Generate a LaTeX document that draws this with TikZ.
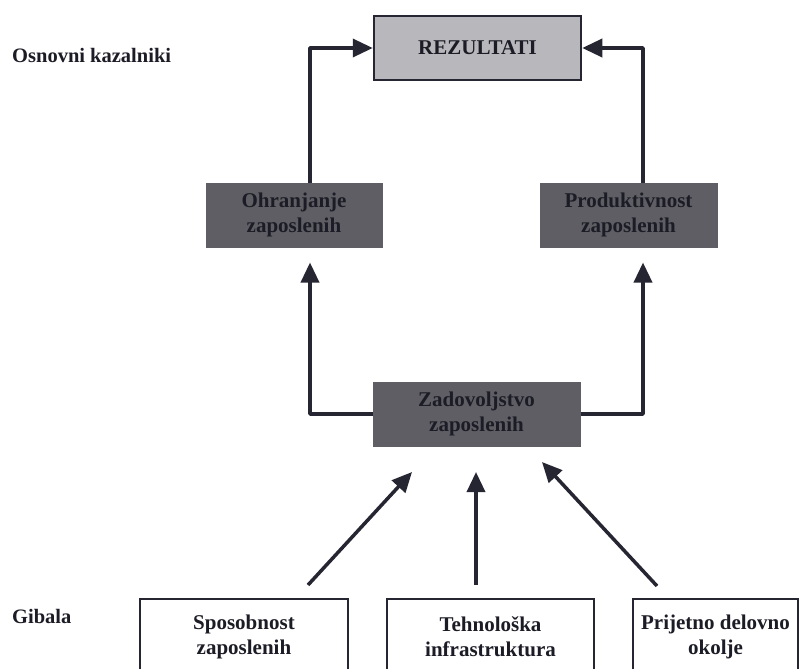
\documentclass[tikz,border=0pt]{standalone}
\usepackage{fontspec}
\setmainfont{Liberation Serif}
\usetikzlibrary{arrows.meta}
\definecolor{ink}{HTML}{262633}
\definecolor{darkbox}{HTML}{5E5E64}
\definecolor{lightbox}{HTML}{B8B8BC}
\definecolor{txt}{HTML}{1C1C26}
\begin{document}
\begin{tikzpicture}[x=1pt,y=-1pt,
  lbl/.style={font=\fontsize{21}{25}\selectfont\bfseries, text=txt, align=center, inner sep=0pt},
  darkn/.style={lbl, fill=darkbox, draw=darkbox, line width=1pt, minimum height=64pt},
  resultbox/.style={lbl, fill=lightbox, draw=ink, line width=2.5pt, minimum width=207pt, minimum height=64pt},
  driverbox/.style={lbl, draw=ink, line width=1.4pt, fill=white, minimum height=76pt},
  sidelbl/.style={font=\fontsize{20.5}{24}\selectfont\bfseries, text=txt, anchor=west, inner sep=0pt},
  arr/.style={draw=ink, line width=3.5pt, line join=round, -{Triangle[length=20pt,width=18pt]}},
  conn/.style={draw=ink, line width=3.5pt, line join=round}
]
\useasboundingbox (0,0) rectangle (803,669);
\fill[white] (0,0) rectangle (803,669);
\clip (0,0) rectangle (803,669);

% side labels
\node[sidelbl] (osn) at (12,55) {Osnovni kazalniki};
\node[sidelbl] (gib) at (12,616) {Gibala};

% main boxes
\node[resultbox] (rez) at (477.5,48) {REZULTATI};
\node[darkn, minimum width=176pt] (ohr) at (294,215) {Ohranjanje\\zaposlenih};
\node[darkn, minimum width=177pt] (prod) at (628.5,215) {Produktivnost\\zaposlenih};
\node[darkn, minimum width=207pt] (zad) at (476.5,414) {Zadovoljstvo\\zaposlenih};

% driver boxes (bottom edge falls below the picture)
\node[driverbox, minimum width=208pt] (spo) at (244,637) {Sposobnost\\zaposlenih};
\node[driverbox, minimum width=207pt] (teh) at (490.5,637) {Tehnološka\\infrastruktura};
\node[driverbox, minimum width=165pt] (pri) at (715.5,637) {Prijetno delovno\\okolje};

% connectors to REZULTATI
\coordinate (cl) at (310,48);
\coordinate (cr) at (643,48);
\draw[arr] (ohr.north -| cl) -- (cl) -- (rez.west);
\draw[arr] (prod.north -| cr) -- (cr) -- (rez.east);

% from Zadovoljstvo up to the two middle boxes
\draw[arr, shorten >=15pt] (zad.west) -- (zad.west -| cl) -- (cl |- ohr.south);
\draw[arr, shorten >=15pt] (zad.east) -- (zad.east -| cr) -- (cr |- prod.south);

% drivers to Zadovoljstvo
\coordinate (s1) at (308,585);
\coordinate (t1) at (412,472);
\coordinate (s2) at (476,585);
\coordinate (t2) at (476,472);
\coordinate (s3) at (657,586);
\coordinate (t3) at (542,462);
\draw[arr] (s1) -- (t1);
\draw[arr] (s2) -- (t2);
\draw[arr] (s3) -- (t3);
\end{tikzpicture}
\end{document}
